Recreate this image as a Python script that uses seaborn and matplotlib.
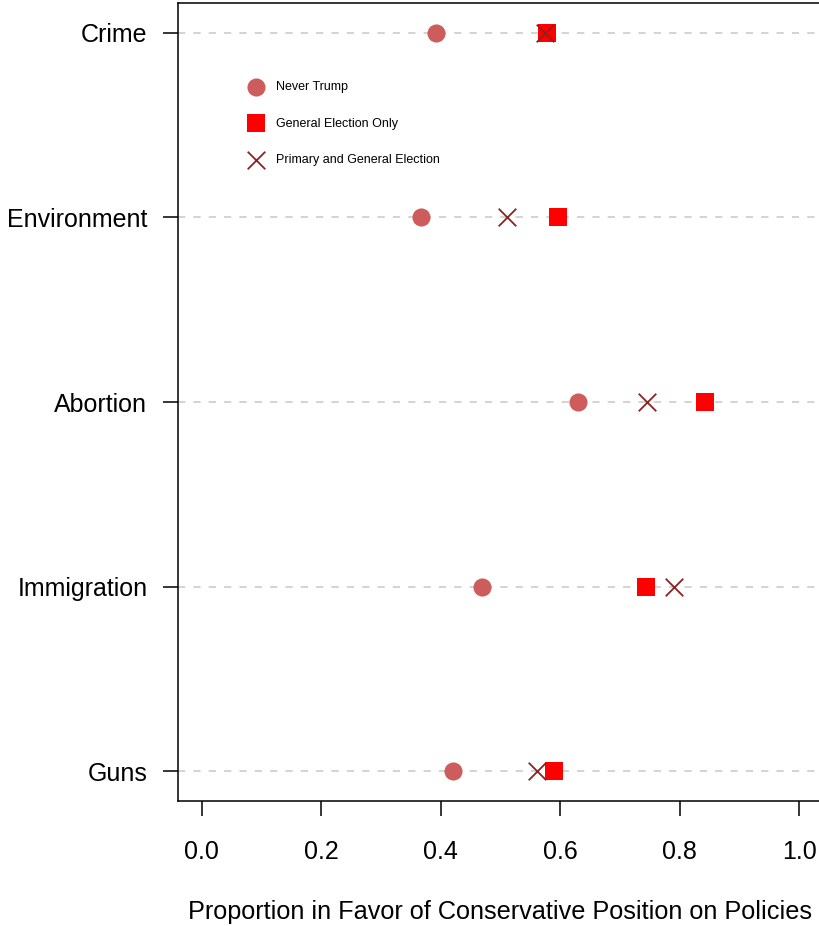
import matplotlib
matplotlib.use("Agg")
import matplotlib.pyplot as plt
import seaborn as sns
import pandas as pd

# ── Data (bottom to top) ──────────────────────────────────────────────────────
issues = ["Guns", "Immigration", "Abortion", "Environment", "Crime"]
never_trump = [0.420, 0.469, 0.630, 0.367, 0.392]
general_only = [0.590, 0.744, 0.843, 0.596, 0.578]
primary_general = [0.561, 0.791, 0.745, 0.511, 0.575]
x_ticks = [0.0, 0.2, 0.4, 0.6, 0.8, 1.0]

groups = ["Never Trump", "General Election Only", "Primary and General Election"]
colors = {"Never Trump": "#CD5C5C",
          "General Election Only": "#FF0000",
          "Primary and General Election": "#8B2323"}

df = pd.DataFrame({
    "issue": issues * 3,
    "value": never_trump + general_only + primary_general,
    "group": [g for g in groups for _ in issues],
})

# ── Plot ──────────────────────────────────────────────────────────────────────
sns.set_style("white")
plt.rcParams["font.family"] = ["Liberation Sans", "DejaVu Sans"]
plt.rcParams["text.color"] = "black"
plt.rcParams["axes.labelcolor"] = "black"
plt.rcParams["xtick.color"] = "black"
plt.rcParams["ytick.color"] = "black"

fig = plt.figure(figsize=(8.2, 9.26), dpi=100)
ax = fig.add_axes([178 / 820, 125 / 926, 645 / 820, 798 / 926])

styles = {
    "Never Trump": dict(marker="o", s=170, linewidth=0),
    "General Election Only": dict(marker="s", s=180, linewidth=0),
    "Primary and General Election": dict(marker="x", s=160, linewidth=1.3),
}
for g in groups:
    sub = df[df["group"] == g]
    sns.scatterplot(data=sub, x="value", y="issue", color=colors[g],
                    label=g, ax=ax, zorder=3, **styles[g])

ax.grid(axis="y", linestyle=(0, (4, 4.5)), color="#D0D0D0", linewidth=1.3)
ax.grid(axis="x", visible=False)
ax.set_xlim(-0.04, 1.04)
ax.set_ylim(-0.16, 4.16)
ax.set_xticks(x_ticks)
ax.set_xticklabels([f"{t:.1f}" for t in x_ticks])

for side in ["left", "bottom", "top", "right"]:
    ax.spines[side].set_visible(True)
    ax.spines[side].set_color("black")
    ax.spines[side].set_linewidth(1.1)

ax.tick_params(axis="both", which="major", length=11, width=1.1,
               color="black", labelcolor="black", labelsize=18, direction="out")
ax.tick_params(axis="x", pad=17, bottom=True)
ax.tick_params(axis="y", pad=11, left=True)

ax.set_ylabel("")
ax.set_xlabel("Proportion in Favor of Conservative Position on Policies",
              fontsize=18.2, labelpad=26, color="black")

leg = ax.legend(loc="upper left", bbox_to_anchor=(0.084, 0.916), frameon=False,
                fontsize=9, labelspacing=1.95, handletextpad=0.6,
                scatterpoints=1)
for t in leg.get_texts():
    t.set_color("black")

fig.savefig("out.png", dpi=100)
